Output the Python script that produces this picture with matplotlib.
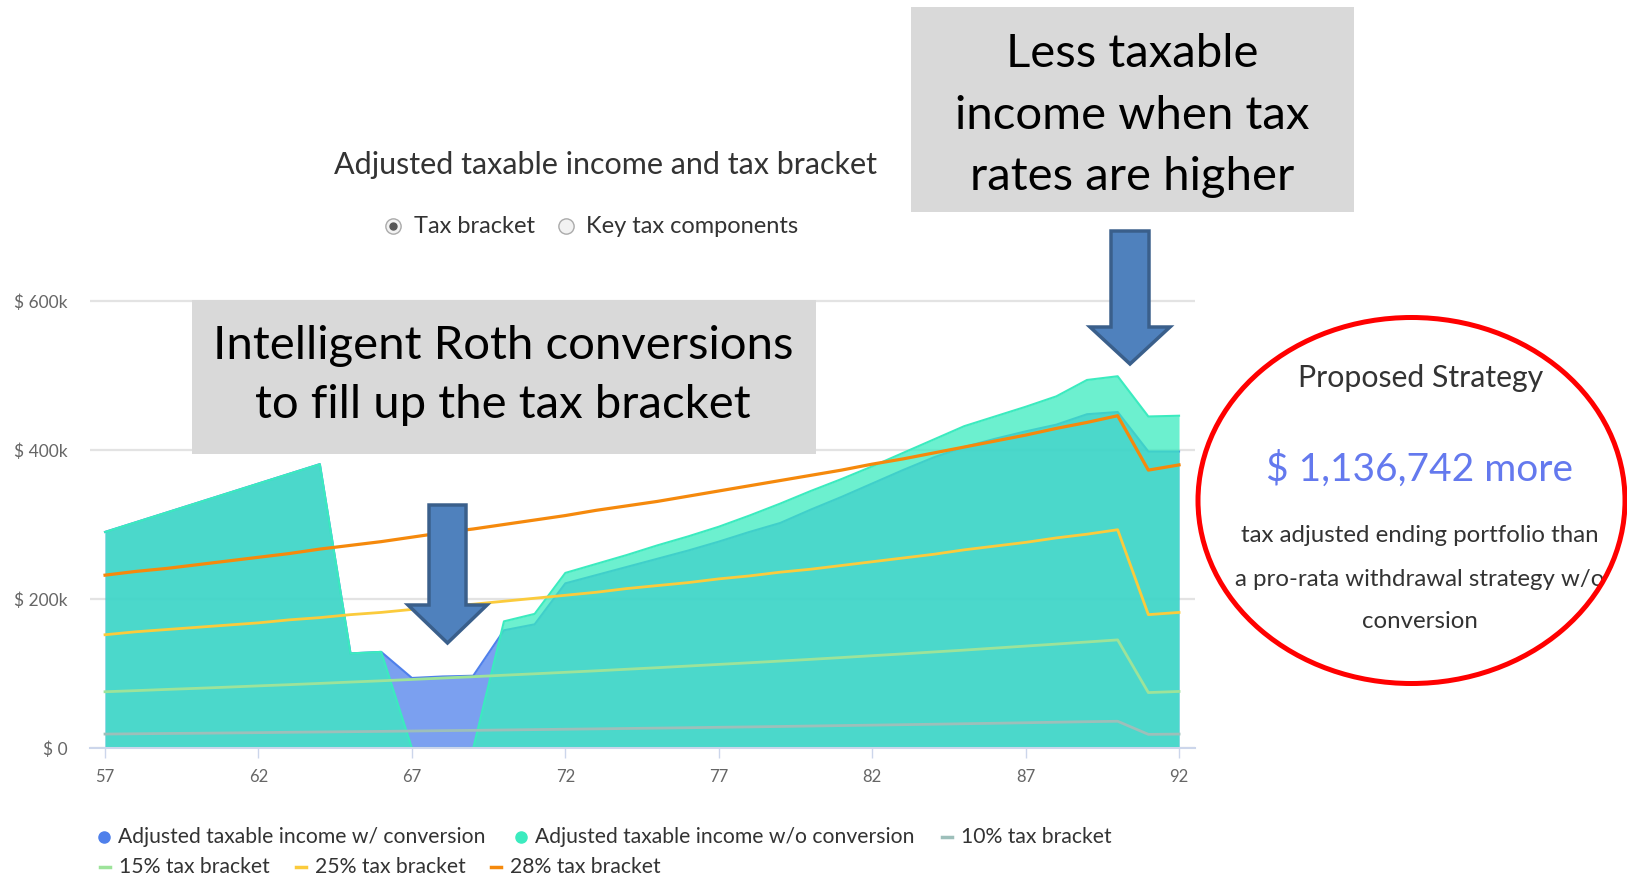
import matplotlib.pyplot as plt
from matplotlib.patches import Rectangle, Ellipse, Polygon
from matplotlib.lines import Line2D

plt.rcParams['font.family'] = ['Lato', 'DejaVu Sans']

W, H = 1627, 881

ages = list(range(57, 93))

# adjusted taxable income ($k)
income_with_conv = [290, 303, 316, 329, 342, 355, 368, 381, 127, 129,
                    94, 96, 97, 158, 166, 221, 232, 243, 254, 265,
                    277, 290, 302, 320, 337, 355, 373, 390, 404, 415,
                    425, 434, 448, 451, 398, 398]
income_without_conv = [290, 303, 316, 329, 342, 355, 368, 381, 127, 129,
                       0, 0, 0, 170, 180, 235, 247, 259, 272, 284,
                       297, 312, 328, 345, 361, 378, 396, 414, 432, 445,
                       458, 472, 494, 499, 445, 446]

# top of each tax bracket ($k)
bracket_10 = [18.7, 19.1, 19.5, 19.8, 20.2, 20.6, 21.1, 21.5, 21.9, 22.3,
              22.8, 23.3, 23.7, 24.2, 24.7, 25.2, 25.7, 26.2, 26.7, 27.2,
              27.8, 28.3, 28.9, 29.5, 30.1, 30.7, 31.3, 31.9, 32.6, 33.2,
              33.9, 34.6, 35.3, 35.9, 18.3, 18.7]
bracket_15 = [75.5, 77.0, 78.6, 80.1, 81.7, 83.4, 85.0, 86.7, 88.5, 90.2,
              92.0, 93.9, 95.7, 97.7, 99.6, 101.6, 103.6, 105.7, 107.8, 110.0,
              112.2, 114.4, 116.7, 119.0, 121.4, 123.9, 126.3, 128.9, 131.4, 134.1,
              136.8, 139.5, 142.3, 145.1, 74.4, 75.9]
bracket_25 = [152, 156, 159, 162, 165, 168, 172, 175, 179, 182,
              186, 190, 193, 197, 201, 205, 209, 214, 218, 222,
              227, 231, 236, 240, 245, 250, 255, 260, 266, 271,
              276, 282, 287, 293, 179, 182]
bracket_28 = [232, 237, 241, 246, 251, 256, 261, 267, 272, 277,
              283, 289, 294, 300, 306, 312, 319, 325, 331, 338,
              345, 352, 359, 366, 373, 381, 388, 396, 404, 412,
              420, 429, 437, 446, 373, 380]

x_ticks = [57, 62, 67, 72, 77, 82, 87, 92]
y_ticks = [0, 200, 400, 600]
y_tick_labels = ['$ 0', '$ 200k', '$ 400k', '$ 600k']

BLUE = '#4F80EB'
TEAL = '#3BEBBF'
C10 = '#9DBFBA'
C15 = '#9DE39A'
C25 = '#FBCB3C'
C28 = '#F5890C'


def fx(x):
    return x / W


def fy(y):
    return 1 - y / H


fig = plt.figure(figsize=(W / 100, H / 100), dpi=100)

y_top = 610
ax_top = 748 - y_top * 0.745
ax = fig.add_axes([fx(90), fy(748), (1195 - 90) / W, (748 - ax_top) / H])

# blue first, teal laid over it so the overlap turns a darker teal
ax.fill_between(ages, 0, income_with_conv, color=BLUE, alpha=0.75, lw=0, zorder=1.0)
ax.plot(ages, income_with_conv, color=BLUE, lw=1.5, zorder=1.1)
ax.fill_between(ages, 0, income_without_conv, color=TEAL, alpha=0.75, lw=0, zorder=1.2)
ax.plot(ages, income_without_conv, color=TEAL, lw=1.5, zorder=1.3)

ax.plot(ages, bracket_10, color=C10, lw=2.0, zorder=2)
ax.plot(ages, bracket_15, color=C15, lw=2.0, zorder=2)
ax.plot(ages, bracket_25, color=C25, lw=2.0, zorder=2)
ax.plot(ages, bracket_28, color=C28, lw=2.3, zorder=2)

ax.set_xlim(56.51, 92.52)
ax.set_ylim(0, y_top)
ax.set_xticks(x_ticks)
ax.set_xticklabels([str(t) for t in x_ticks])
ax.set_yticks(y_ticks)
ax.set_yticklabels(y_tick_labels)
ax.yaxis.grid(True, color='#E3E3E3', lw=1.6)
ax.set_axisbelow(True)
for side in ['top', 'right', 'left']:
    ax.spines[side].set_visible(False)
ax.spines['bottom'].set_color('#CCD6EB')
ax.spines['bottom'].set_linewidth(1.5)
ax.tick_params(axis='x', length=7, width=1, color='#CCD6EB', pad=8,
               labelcolor='#666666', labelsize=12)
ax.tick_params(axis='y', length=0, pad=16, labelcolor='#666666', labelsize=12.5)

# chart title and view switch
fig.text(fx(605), fy(174), 'Adjusted taxable income and tax bracket', ha='center',
         va='baseline', fontsize=22, color='#333333')
fig.add_artist(Line2D([fx(393)], [fy(226)], marker='o', markersize=11, mfc='#F2F2F2',
                      mec='#AAAAAA', mew=1, transform=fig.transFigure))
fig.add_artist(Line2D([fx(393)], [fy(226)], marker='o', markersize=5, mfc='#555555',
                      mec='#555555', transform=fig.transFigure))
fig.text(fx(414), fy(233), 'Tax bracket', ha='left', va='baseline', fontsize=17,
         color='#333333')
fig.add_artist(Line2D([fx(566)], [fy(226)], marker='o', markersize=11, mfc='#F2F2F2',
                      mec='#AAAAAA', mew=1, transform=fig.transFigure))
fig.text(fx(586), fy(233), 'Key tax components', ha='left', va='baseline', fontsize=17,
         color='#333333')

# legend
legend_items = [
    (104, 837, 'dot', BLUE, 'Adjusted taxable income w/ conversion'),
    (521, 837, 'dot', TEAL, 'Adjusted taxable income w/o conversion'),
    (947, 837, 'dash', C10, '10% tax bracket'),
    (105, 867, 'dash', C15, '15% tax bracket'),
    (301, 867, 'dash', C25, '25% tax bracket'),
    (496, 867, 'dash', C28, '28% tax bracket'),
]
for mx, my, kind, col, label in legend_items:
    if kind == 'dot':
        fig.add_artist(Line2D([fx(mx)], [fy(my)], marker='o', markersize=8, mfc=col,
                              mec=col, transform=fig.transFigure))
    else:
        fig.add_artist(Line2D([fx(mx - 5), fx(mx + 5)], [fy(my), fy(my)], color=col,
                              lw=2.5, transform=fig.transFigure))
    fig.text(fx(mx + 14), fy(my), label, ha='left', va='center', fontsize=15.2,
             color='#333333')

# callout boxes
fig.add_artist(Rectangle((fx(192), fy(454)), (816 - 192) / W, (454 - 300) / H,
                         transform=fig.transFigure, fc='#D9D9D9', ec='none', zorder=4))
fig.text(fx(503), fy(359), 'Intelligent Roth conversions', ha='center', va='baseline',
         fontsize=34, color='black', zorder=6)
fig.text(fx(503), fy(418), 'to fill up the tax bracket', ha='center', va='baseline',
         fontsize=34, color='black', zorder=6)

fig.add_artist(Rectangle((fx(911), fy(212)), (1354 - 911) / W, (212 - 7) / H,
                         transform=fig.transFigure, fc='#D9D9D9', ec='none', zorder=4))
for line, base in [('Less taxable', 67), ('income when tax', 129), ('rates are higher', 190)]:
    fig.text(fx(1132), fy(base), line, ha='center', va='baseline', fontsize=34,
             color='black', zorder=6)


def block_arrow(left, right, top, head_y, head_l, head_r, tip_x, tip_y):
    pts = [(left, top), (right, top), (right, head_y), (head_r, head_y),
           (tip_x, tip_y), (head_l, head_y), (left, head_y)]
    fig.add_artist(Polygon([(fx(x), fy(y)) for x, y in pts], closed=True,
                           transform=fig.transFigure, fc='#4F81BD', ec='#3A5F8B',
                           lw=2.5, zorder=5))


block_arrow(429, 466, 505, 605, 408, 487, 447.5, 643)
block_arrow(1111, 1149, 231, 327, 1090, 1170, 1130, 364)

# strategy summary
fig.add_artist(Ellipse((fx(1411.5), fy(500.5)), 427 / W, 366 / H, transform=fig.transFigure,
                       fc='none', ec='#FF0000', lw=3.6, zorder=5))
fig.text(fx(1421), fy(387), 'Proposed Strategy', ha='center', va='baseline', fontsize=21.8,
         color='#333333')
fig.text(fx(1420), fy(481), '$ 1,136,742 more', ha='center', va='baseline', fontsize=28,
         color='#6479EE')
for line, base in [('tax adjusted ending portfolio than', 542),
                   ('a pro-rata withdrawal strategy w/o', 586),
                   ('conversion', 628)]:
    fig.text(fx(1420), fy(base), line, ha='center', va='baseline', fontsize=17.3,
             color='#333333')

fig.savefig('out.png', dpi=100)
